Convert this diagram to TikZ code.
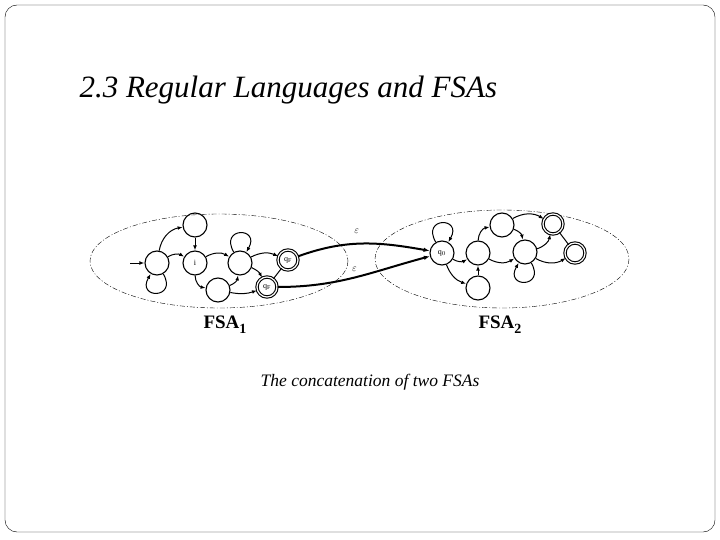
\documentclass[tikz,border=0pt]{standalone}
\usepackage{fontspec}
\setmainfont{Liberation Serif}
\usetikzlibrary{arrows.meta}
\begin{document}
\begin{tikzpicture}[x=1pt,y=-1pt,
  st/.style={circle,draw,line width=1.1pt,minimum size=24pt,inner sep=0pt,font=\footnotesize},
  ac/.style={circle,draw,double,line width=1.1pt,double distance=1.2pt,minimum size=20pt,inner sep=0pt,font=\footnotesize},
  e/.style={-{Latex[length=5pt]},line width=1pt},
  eps/.style={-{Latex[length=6pt]},line width=2pt}]
\useasboundingbox (0,0) rectangle (720,540);
\draw[rounded corners=12pt] (5,5) rectangle (715,532);
\node[anchor=west,font=\itshape\fontsize{31}{36}\selectfont] (title) at (76,90) {2.3 Regular Languages and FSAs};
\draw[dash pattern=on 5pt off 2pt on 1pt off 2pt] (219,261) ellipse [x radius=129, y radius=47];
\draw[dash pattern=on 5pt off 2pt on 1pt off 2pt] (502,259) ellipse [x radius=127, y radius=49];
% FSA1
\node[st] (A) at (157,263) {};
\node[st] (B) at (195,225) {};
\node[st] (I) at (195,263) {i};
\node[st] (C) at (240,263) {};
\node[st] (D) at (218,290) {};
\node[ac] (F1) at (288,260) {q$_\mathrm{F}$};
\node[ac] (F2) at (267,287) {q$_\mathrm{F}$};
\coordinate (S) at (130,263);
\draw[e] (S) -- (A);
\draw[e] (A) to[bend left=35] (B);
\draw[e] (A) to[bend left=30] (I);
\draw[e] (B) -- (I);
\draw[e] (I) to[bend left=30] (C);
\draw[e] (C) to[bend left=25] (F1);
\draw[e] (C) to[bend left=20] (F2);
\draw[e] (I) to[bend right=40] (D);
\draw[e] (D) to[bend right=30] (C);
\draw[e] (D) to[bend right=15] (F2);
\draw[line width=1pt] (F2) -- (F1);
\draw[e] (A) to[out=-60,in=-120,looseness=6] (A);
\draw[e] (C) to[out=120,in=60,looseness=6] (C);
% FSA2
\node[st] (Q) at (442,253) {q$_0$};
\node[st] (E) at (478,253) {};
\node[st] (Ft) at (502,225) {};
\node[st] (G) at (478,288) {};
\node[st] (H) at (525,252) {};
\node[ac] (X1) at (553,224) {};
\node[ac] (X2) at (575,253) {};
\draw[e] (Q) to[out=120,in=60,looseness=6] (Q);
\draw[e] (Q) to[bend right=30] (E);
\draw[e] (Q) to[bend right=25] (G);
\draw[e] (E) to[bend left=40] (Ft);
\draw[e] (Ft) to[bend left=30] (H);
\draw[e] (E) to[bend right=30] (H);
\draw[e] (G) -- (E);
\draw[e] (H) to[out=-60,in=-120,looseness=6] (H);
\draw[e] (H) to[bend right=30] (X1);
\draw[e] (Ft) to[bend left=30] (X1);
\draw[e] (H) to[bend right=30] (X2);
\draw[line width=1pt] (X2) -- (X1);
% epsilon
\draw[eps] (F1) to[out=20,in=170] node[above,pos=0.45,yshift=6pt,font=\normalsize] (l1) {$\varepsilon$} (Q);
\draw[eps] (F2) to[out=0,in=195] node[above,pos=0.5,yshift=2pt,font=\normalsize] (l2) {$\varepsilon$} (Q);
\node[font=\bfseries\fontsize{19}{22}\selectfont] (n1) at (225,325) {FSA\raisebox{-5pt}{\fontsize{14}{16}\selectfont 1}};
\node[font=\bfseries\fontsize{19}{22}\selectfont] (n2) at (500,325) {FSA\raisebox{-5pt}{\fontsize{14}{16}\selectfont 2}};
\node[font=\itshape\fontsize{17.5}{20}\selectfont] (cap) at (370,382) {The concatenation of two FSAs};
\end{tikzpicture}
\end{document}
